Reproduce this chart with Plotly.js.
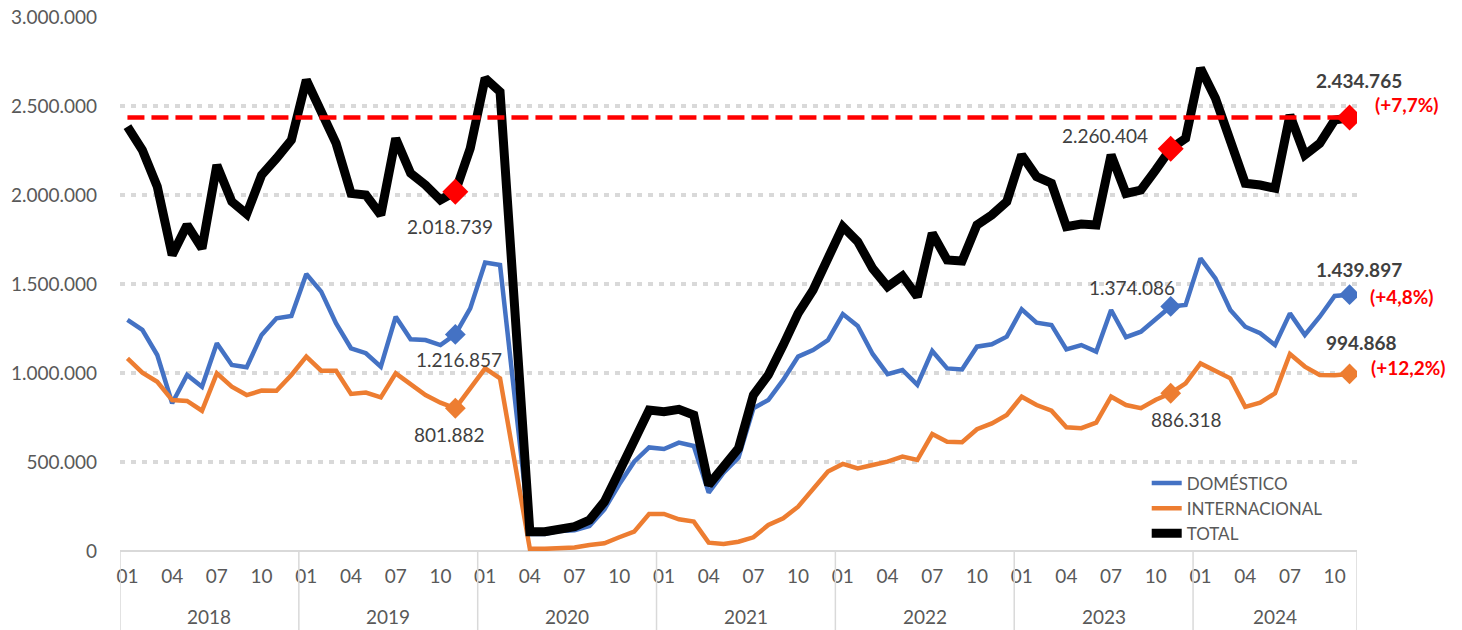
<!DOCTYPE html>
<html>
<head>
<meta charset="utf-8">
<script src="https://cdn.plot.ly/plotly-3.0.1.min.js"></script>
<style>
  html, body { margin: 0; padding: 0; background: #ffffff; }
  #chart { width: 1462px; height: 630px; }
</style>
</head>
<body>
<div id="chart"></div>
<script>
// ---------- DATA ----------
const YEARS = ["2018", "2019", "2020", "2021", "2022", "2023", "2024"];
const MONTH_CODES = ["01", "02", "03", "04", "05", "06", "07", "08", "09", "10", "11", "12"];
const MONTHS_SHOWN = ["01", "04", "07", "10"];
const LAST_YEAR_MONTHS = 11;

const DOMESTICO = [
  1298000, 1242000, 1101000, 830000, 989000, 923000, 1167000, 1045000, 1032000, 1214000, 1307000, 1320000,
  1556000, 1457000, 1279000, 1139000, 1111000, 1036000, 1316000, 1189000, 1185000, 1157000, 1216857, 1363000,
  1620000, 1607000, 851000, 95000, 96000, 113000, 117000, 140000, 234000, 375000, 502000, 582000,
  573000, 609000, 590000, 328000, 440000, 525000, 802000, 848000, 961000, 1092000, 1129000, 1185000,
  1331000, 1264000, 1107000, 994000, 1017000, 933000, 1124000, 1026000, 1020000, 1148000, 1161000, 1204000,
  1358000, 1283000, 1270000, 1133000, 1157000, 1120000, 1354000, 1201000, 1232000, 1300000, 1374086, 1382000,
  1644000, 1532000, 1354000, 1260000, 1223000, 1157000, 1335000, 1214000, 1316000, 1433000, 1439897
];

const INTERNACIONAL = [
  1082000, 1002000, 951000, 848000, 843000, 788000, 998000, 923000, 876000, 901000, 900000, 989000,
  1092000, 1013000, 1013000, 882000, 890000, 863000, 998000, 938000, 876000, 833000, 801882, 914000,
  1026000, 970000, 491000, 12000, 12000, 14000, 20000, 34000, 43000, 77000, 109000, 208000,
  208000, 178000, 165000, 47000, 39000, 52000, 77000, 146000, 184000, 249000, 343000, 446000,
  489000, 464000, 483000, 502000, 530000, 511000, 657000, 614000, 611000, 684000, 717000, 764000,
  867000, 820000, 788000, 695000, 690000, 721000, 867000, 820000, 802000, 850000, 886318, 942000,
  1054000, 1013000, 970000, 810000, 833000, 886000, 1107000, 1036000, 989000, 988000, 994868
];

const TOTAL = [
  2384000, 2253000, 2047000, 1663000, 1832000, 1700000, 2168000, 1963000, 1893000, 2112000, 2206000, 2309000,
  2646000, 2478000, 2290000, 2009000, 2000000, 1888000, 2318000, 2122000, 2056000, 1972000, 2018739, 2262000,
  2656000, 2580000, 1342000, 108000, 108000, 128000, 137000, 174000, 277000, 446000, 614000, 792000,
  783000, 796000, 764000, 371000, 474000, 577000, 876000, 989000, 1157000, 1335000, 1466000, 1644000,
  1822000, 1738000, 1588000, 1485000, 1545000, 1429000, 1785000, 1635000, 1629000, 1832000, 1888000, 1963000,
  2225000, 2103000, 2066000, 1822000, 1837000, 1831000, 2225000, 2009000, 2028000, 2141000, 2260404, 2318000,
  2712000, 2543000, 2318000, 2066000, 2056000, 2038000, 2449000, 2225000, 2290000, 2421000, 2434765
];

const HIGHLIGHT_PERIODS = ["2019-11", "2023-11", "2024-11"];
const SERIES_NAMES = ["DOMÉSTICO", "INTERNACIONAL", "TOTAL"];
const Y_TICKS = [0, 500000, 1000000, 1500000, 2000000, 2500000, 3000000];

// ---------- CATEGORIES ----------
const PERIODS = [], PERIOD_YEAR = [], PERIOD_MONTH = [];
YEARS.forEach((y, yi) => {
  const n = (yi === YEARS.length - 1) ? LAST_YEAR_MONTHS : MONTH_CODES.length;
  for (let m = 0; m < n; m++) {
    PERIODS.push(y + "-" + MONTH_CODES[m]);
    PERIOD_YEAR.push(y);
    PERIOD_MONTH.push(MONTH_CODES[m]);
  }
});
const X = PERIODS.map((_, i) => i);
const LAST = X.length - 1;
const HI_IDX = HIGHLIGHT_PERIODS.map(p => PERIODS.indexOf(p));

// ---------- STYLE ----------
const FONT = 'Lato, "Open Sans", "DejaVu Sans", sans-serif';
const C_DOM = "#4472C4", C_INT = "#ED7D31", C_TOT = "#000000", C_RED = "#FF0000";
const C_TXT = "#595959", C_LBL = "#404040", C_GRID = "#D9D9D9";

function fmt(v) { return Math.round(v).toString().replace(/\B(?=(\d{3})+(?!\d))/g, "."); }
function pct(a, b) { return "(+" + ((a / b - 1) * 100).toFixed(1).replace(".", ",") + "%)"; }

const traces = [
  { x: X, y: DOMESTICO, name: SERIES_NAMES[0], type: "scatter", mode: "lines",
    line: { color: C_DOM, width: 4.5 } },
  { x: X, y: INTERNACIONAL, name: SERIES_NAMES[1], type: "scatter", mode: "lines",
    line: { color: C_INT, width: 4.5 } },
  { x: X, y: TOTAL, name: SERIES_NAMES[2], type: "scatter", mode: "lines",
    line: { color: C_TOT, width: 9 } },
  { x: [0, LAST], y: [TOTAL[LAST], TOTAL[LAST]], type: "scatter", mode: "lines",
    showlegend: false, line: { color: C_RED, width: 4.5, dash: "17px,7px" } },
  { x: HI_IDX, y: HI_IDX.map(i => DOMESTICO[i]), type: "scatter", mode: "markers", showlegend: false,
    marker: { symbol: "diamond", size: 16, color: C_DOM } },
  { x: HI_IDX, y: HI_IDX.map(i => INTERNACIONAL[i]), type: "scatter", mode: "markers", showlegend: false,
    marker: { symbol: "diamond", size: 16, color: C_INT } },
  { x: HI_IDX, y: HI_IDX.map(i => TOTAL[i]), type: "scatter", mode: "markers", showlegend: false,
    marker: { symbol: "diamond", size: 20, color: C_RED } }
];

// ---------- ANNOTATIONS ----------
const ann = [];
function lab(i, v, dx, dy, opts) {
  ann.push(Object.assign({
    x: i, y: v, xref: "x", yref: "y", text: fmt(v), showarrow: false,
    xanchor: "center", yanchor: "middle", xshift: dx, yshift: dy,
    font: { family: FONT, size: 19, color: C_LBL }
  }, opts || {}));
}
const [a, b, c] = HI_IDX;
lab(a, TOTAL[a], -5, -35);
lab(a, DOMESTICO[a], 4, -25);
lab(a, INTERNACIONAL[a], -6, -26);
lab(b, TOTAL[b], -66, 13);
lab(b, DOMESTICO[b], -39, 19);
lab(b, INTERNACIONAL[b], 16, -26);
const boldFont = { family: FONT, size: 19, color: C_LBL, weight: "bold" };
const redFont = { family: FONT, size: 19, color: C_RED, weight: "bold" };
lab(c, TOTAL[c], 9, 37, { text: "<b>" + fmt(TOTAL[c]) + "</b>", font: boldFont });
lab(c, DOMESTICO[c], 9, 25, { text: "<b>" + fmt(DOMESTICO[c]) + "</b>", font: boldFont });
lab(c, INTERNACIONAL[c], 12, 31, { text: "<b>" + fmt(INTERNACIONAL[c]) + "</b>", font: boldFont });
lab(c, TOTAL[c], 57, 13, { text: "<b>" + pct(TOTAL[c], TOTAL[b]) + "</b>", font: redFont });
lab(c, DOMESTICO[c], 52, -2, { text: "<b>" + pct(DOMESTICO[c], DOMESTICO[b]) + "</b>", font: redFont });
lab(c, INTERNACIONAL[c], 59, 6, { text: "<b>" + pct(INTERNACIONAL[c], INTERNACIONAL[b]) + "</b>", font: redFont });

// Year group labels and dividers
const PLOT_H = 630 - 17 - 79;
const shapes = [];
YEARS.forEach(y => {
  const idx = X.filter(i => PERIOD_YEAR[i] === y);
  const first = idx[0], lastI = idx[idx.length - 1];
  ann.push({ x: (first + lastI) / 2, y: -65 / PLOT_H, xref: "x", yref: "paper", text: y,
    showarrow: false, xanchor: "center", yanchor: "middle",
    font: { family: FONT, size: 19, color: C_TXT } });
  shapes.push({ type: "line", xref: "x", yref: "paper", x0: first - 0.5, x1: first - 0.5,
    y0: 0, y1: -79 / PLOT_H, line: { color: C_GRID, width: 1.5 } });
});
shapes.push({ type: "line", xref: "x", yref: "paper", x0: LAST + 0.5, x1: LAST + 0.5,
  y0: 0, y1: -79 / PLOT_H, line: { color: C_GRID, width: 1.5 } });

const tickIdx = X.filter(i => MONTHS_SHOWN.includes(PERIOD_MONTH[i]));

const layout = {
  width: 1462, height: 630,
  margin: { l: 120, r: 105, t: 17, b: 79, pad: 0 },
  paper_bgcolor: "#ffffff", plot_bgcolor: "#ffffff",
  separators: ",.",
  font: { family: FONT, size: 19, color: C_TXT },
  showlegend: true,
  hovermode: false,
  legend: {
    x: 0.83, y: 0.16, xanchor: "left", yanchor: "top",
    bgcolor: "rgba(255,255,255,0)", borderwidth: 0,
    font: { family: FONT, size: 17, color: C_TXT },
    tracegroupgap: 0
  },
  xaxis: {
    range: [-0.5, LAST + 0.5], showgrid: false, zeroline: false, showline: false,
    tickmode: "array", tickvals: tickIdx, ticktext: tickIdx.map(i => PERIOD_MONTH[i]),
    ticks: "", ticklabelstandoff: 12,
    tickfont: { family: FONT, size: 19, color: C_TXT }, fixedrange: true
  },
  yaxis: {
    range: [0, 3000000], tickmode: "array", tickvals: Y_TICKS, tickformat: ",d",
    showgrid: true, gridcolor: C_GRID, gridwidth: 4, griddash: "5px,6px",
    zeroline: true, zerolinecolor: C_GRID, zerolinewidth: 1.5, showline: false,
    ticks: "", ticklabelstandoff: 22,
    tickfont: { family: FONT, size: 19, color: C_TXT }, fixedrange: true
  },
  annotations: ann,
  shapes: shapes
};

Plotly.newPlot("chart", traces, layout, { displayModeBar: false, staticPlot: true });
</script>
</body>
</html>
